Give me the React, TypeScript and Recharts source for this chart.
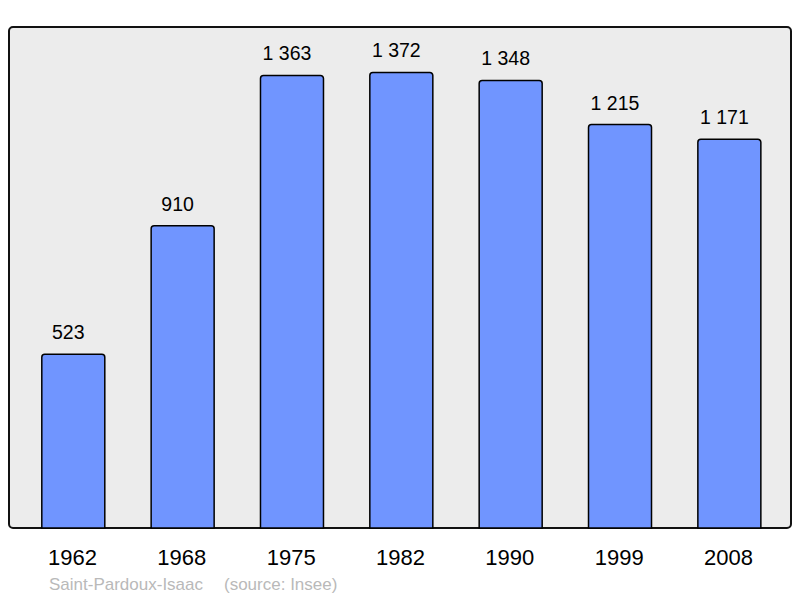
import React from "react";
import { BarChart, Bar, XAxis, YAxis, LabelList } from "recharts";

const years = ["1962", "1968", "1975", "1982", "1990", "1999", "2008"];
const population = [523, 910, 1363, 1372, 1348, 1215, 1171];
const placeName = "Saint-Pardoux-Isaac";
const sourceText = "(source: Insee)";

const data = years.map((y, i) => ({ year: y, pop: population[i] }));

const FONT = "'Liberation Sans', Arial, sans-serif";

const fmt = (v: number) => String(v).replace(/\B(?=(\d{3})+(?!\d))/g, " ");

const YearTick = (props: any) => {
  const { x, y, payload } = props;
  return (
    <text x={x - 1} y={y + 37} textAnchor="middle" fontSize={22} fontFamily={FONT} fill="#000">
      {payload.value}
    </text>
  );
};

const ValueLabel = (props: any) => {
  const { x, y, width, value } = props;
  return (
    <text x={x + width / 2 - 5} y={y - 15} textAnchor="middle" fontSize={19.5} fontFamily={FONT} fill="#000">
      {fmt(value)}
    </text>
  );
};

export default function App() {
  return (
    <div style={{ position: "absolute", left: 0, top: 0, width: 800, height: 598 }}>
      <svg width={800} height={598} style={{ position: "absolute", left: 0, top: 0 }}>
        <rect x={9} y={27} width={782} height={501} rx={4} ry={4} fill="#ececec" stroke="#111" strokeWidth={2} />
        <text x={49} y={590} fontSize={17} fontFamily={FONT} fill="#b9b9b9">
          {placeName}
        </text>
        <text x={224} y={590} fontSize={17} fontFamily={FONT} fill="#b9b9b9">
          {sourceText}
        </text>
      </svg>
      <div style={{ position: "absolute", left: 0, top: 0 }}>
        <BarChart
          width={800}
          height={598}
          data={data}
          margin={{ top: 27, right: 15.8, bottom: 0, left: 18.8 }}
          barSize={63}
        >
          <XAxis
            dataKey="year"
            axisLine={false}
            tickLine={false}
            tickSize={0}
            tickMargin={0}
            height={70}
            interval={0}
            tick={<YearTick />}
          />
          <YAxis hide domain={[0, 1509]} />
          <Bar
            dataKey="pop"
            fill="#7095ff"
            stroke="#000"
            strokeWidth={1.5}
            radius={[3, 3, 0, 0]}
            isAnimationActive={false}
          >
            <LabelList dataKey="pop" content={<ValueLabel />} />
          </Bar>
        </BarChart>
      </div>
    </div>
  );
}
